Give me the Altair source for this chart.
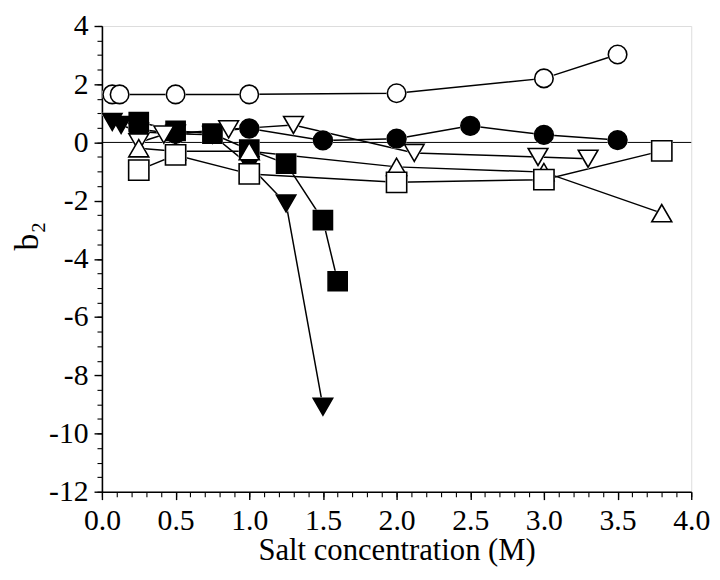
import altair as alt
import pandas as pd

# ---- data ----
open_circle_x = [0.07, 0.12, 0.5, 1.0, 2.0, 3.0, 3.5]
open_circle_y = [1.65, 1.65, 1.65, 1.65, 1.69, 2.2, 3.02]

filled_circle_x = [0.25, 0.5, 1.0, 1.5, 2.0, 2.5, 3.0, 3.5]
filled_circle_y = [0.45, 0.3, 0.48, 0.07, 0.13, 0.57, 0.26, 0.08]

filled_square_x = [0.25, 0.5, 0.75, 1.0, 1.25, 1.5, 1.6]
filled_square_y = [0.7, 0.4, 0.3, -0.25, -0.73, -2.67, -4.77]

filled_tri_down_x = [0.07, 0.13, 0.25, 0.5, 0.75, 1.0, 1.25, 1.5]
filled_tri_down_y = [0.7, 0.6, 0.37, 0.3, 0.26, -0.78, -2.1, -9.08]

open_tri_down_x = [0.25, 0.42, 0.86, 1.3, 2.12, 2.96, 3.3]
open_tri_down_y = [0.0, 0.27, 0.45, 0.6, -0.36, -0.5, -0.56]

open_tri_up_x = [0.25, 0.5, 1.0, 2.0, 3.0, 3.8]
open_tri_up_y = [-0.2, -0.3, -0.3, -0.84, -1.02, -2.43]

open_square_x = [0.25, 0.5, 1.0, 2.0, 3.0, 3.8]
open_square_y = [-0.95, -0.43, -1.08, -1.37, -1.28, -0.29]

series_names = ["open circle", "filled circle", "filled square", "filled triangle down",
                "open triangle down", "open triangle up", "open square"]
series_shapes = ["circle", "circle", "square", "triangle-down",
                 "triangle-down", "triangle-up", "square"]
series_fills = ["white", "black", "black", "black", "white", "white", "white"]
series_sizes = [175, 210, 165, 260, 250, 250, 140]
halo_sizes = [s * 2.0 for s in series_sizes]

x_major = [0, 0.5, 1, 1.5, 2, 2.5, 3, 3.5, 4]
x_minor = [round(i * 0.1, 1) for i in range(41)]
y_major = [-12, -10, -8, -6, -4, -2, 0, 2, 4]
y_minor = [i * 0.5 for i in range(-24, 9)]

xs = [open_circle_x, filled_circle_x, filled_square_x, filled_tri_down_x,
      open_tri_down_x, open_tri_up_x, open_square_x]
ys = [open_circle_y, filled_circle_y, filled_square_y, filled_tri_down_y,
      open_tri_down_y, open_tri_up_y, open_square_y]

rows = []
for name, xv, yv in zip(series_names, xs, ys):
    for a, b in zip(xv, yv):
        rows.append({"series": name, "x": a, "y": b})
df = pd.DataFrame(rows)

FONT = "Liberation Serif"
xscale = alt.Scale(domain=[0, 4], nice=False, zero=False)
yscale = alt.Scale(domain=[-12, 4], nice=False, zero=False)

base = alt.Chart(df)

lines = base.mark_line(color="black", strokeWidth=1.5).encode(
    x=alt.X("x:Q", scale=xscale,
            axis=alt.Axis(values=x_major, orient="bottom",
                          labelExpr="format(datum.value, '.1f')",
                          title="Salt concentration (M)", tickSize=8, tickWidth=1.4,
                          domainWidth=1.6, domainColor="black", tickColor="black",
                          labelFont=FONT, labelFontSize=30, labelColor="black",
                          labelPadding=6, titleFont=FONT, titleFontSize=31,
                          titleFontWeight="normal", titleColor="black",
                          titlePadding=1, grid=False, labelFlush=False, labelOverlap=False)),
    y=alt.Y("y:Q", scale=yscale,
            axis=alt.Axis(values=y_major, orient="left",
                          labelExpr="'' + datum.value",
                          title="b₂", tickSize=8, tickWidth=1.4,
                          domainWidth=1.6, domainColor="black", tickColor="black",
                          labelFont=FONT, labelFontSize=30, labelColor="black",
                          labelPadding=6, titleFont=FONT, titleFontSize=34,
                          titleFontWeight="normal", titleColor="black",
                          titlePadding=4, titleY=212, grid=False, labelFlush=False,
                          labelOverlap=False)),
    detail="series:N",
)

halo = base.mark_point(filled=True, fill="white", stroke="white", strokeWidth=2, opacity=1).encode(
    x=alt.X("x:Q", scale=xscale, axis=None),
    y=alt.Y("y:Q", scale=yscale, axis=None),
    shape=alt.Shape("series:N", scale=alt.Scale(domain=series_names, range=series_shapes), legend=None),
    size=alt.Size("series:N", scale=alt.Scale(domain=series_names, range=halo_sizes), legend=None),
)

points = base.mark_point(filled=True, stroke="black", strokeWidth=1.6, opacity=1).encode(
    x=alt.X("x:Q", scale=xscale,
            axis=alt.Axis(values=x_minor, labels=False, domain=False, orient="bottom",
                          title=None, tickSize=5, tickWidth=1.1, tickColor="black", grid=False)),
    y=alt.Y("y:Q", scale=yscale,
            axis=alt.Axis(values=y_minor, labels=False, domain=False, orient="left",
                          title=None, tickSize=5, tickWidth=1.1, tickColor="black", grid=False)),
    shape=alt.Shape("series:N", scale=alt.Scale(domain=series_names, range=series_shapes), legend=None),
    fill=alt.Fill("series:N", scale=alt.Scale(domain=series_names, range=series_fills), legend=None),
    size=alt.Size("series:N", scale=alt.Scale(domain=series_names, range=series_sizes), legend=None),
)

zero = alt.Chart(pd.DataFrame({"z": [0]})).mark_rule(color="black", strokeWidth=1).encode(
    y=alt.Y("z:Q", scale=yscale, axis=None)
)

chart = alt.layer(zero, lines, halo, points).resolve_axis(
    x="independent", y="independent"
).properties(
    width=596, height=471,
    autosize=alt.AutoSizeParams(type="none"),
    padding={"left": 95, "top": 15, "right": 21, "bottom": 78},
).configure_view(stroke="black", strokeWidth=1.6).configure(background="white")

chart.save("out.html", embed_options={"renderer": "svg", "actions": False})
